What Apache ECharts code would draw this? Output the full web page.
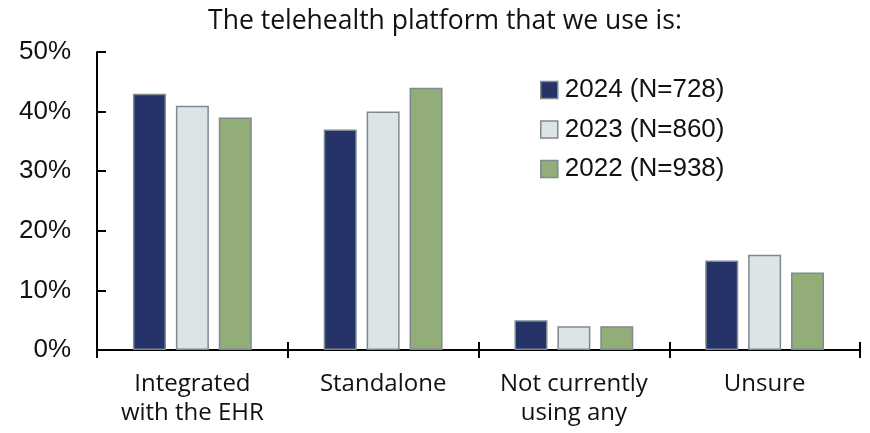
<!DOCTYPE html>
<html>
<head>
<meta charset="utf-8">
<script src="https://cdn.jsdelivr.net/npm/echarts@6/dist/echarts.min.js"></script>
<style>
  html, body { margin: 0; padding: 0; background: #fff; }
  #chart { width: 870px; height: 433px; }
</style>
</head>
<body>
<div id="chart"></div>
<script>
const categories = ["Integrated\nwith the EHR", "Standalone", "Not currently\nusing any", "Unsure"];
const seriesNames = ["2024 (N=728)", "2023 (N=860)", "2022 (N=938)"];
const values2024 = [43, 37, 5, 15];
const values2023 = [41, 40, 4, 16];
const values2022 = [39, 44, 4, 13];
const yTicks = [0, 10, 20, 30, 40, 50];

const colors = ["#253368", "#dde4e6", "#93ad78"];
const allValues = [values2024, values2023, values2022];

const chart = echarts.init(document.getElementById("chart"));

const option = {
  animation: false,
  title: {
    text: "The telehealth platform that we use is:",
    left: 440,
    textAlign: "center",
    top: 3,
    textStyle: { fontFamily: "Open Sans", fontSize: 26.5, fontWeight: "normal", color: "#111" },
  },
  legend: {
    orient: "vertical",
    left: 535,
    top: 72,
    itemWidth: 17,
    itemHeight: 17,
    itemGap: 13.5,
    icon: "rect",
    data: seriesNames,
    textStyle: { fontFamily: "Liberation Sans", fontSize: 26, color: "#111", padding: [0, 0, 0, 2] },
    itemStyle: { borderColor: "#7d8a90", borderWidth: 1.5 },
  },
  grid: { left: 97, right: 10, top: 52, bottom: 83 },
  xAxis: [
    {
      type: "category",
      data: categories,
      axisLine: { lineStyle: { color: "#000", width: 2 } },
      axisTick: { show: true, length: 8, lineStyle: { color: "#000", width: 2 } },
      axisLabel: {
        interval: 0,
        margin: 20,
        fontFamily: "Open Sans",
        fontSize: 24,
        lineHeight: 29,
        color: "#111",
      },
    },
    {
      type: "category",
      data: categories,
      position: "bottom",
      axisLine: { show: false },
      axisTick: { show: true, inside: true, length: 8, lineStyle: { color: "#000", width: 2 } },
      axisLabel: { show: false },
    },
  ],
  yAxis: {
    type: "value",
    min: 0,
    max: 50,
    interval: 10,
    axisLine: { show: true, lineStyle: { color: "#000", width: 2 } },
    axisTick: { show: true, inside: true, length: 9, lineStyle: { color: "#000", width: 2 } },
    splitLine: { show: false },
    axisLabel: {
      margin: 26,
      fontFamily: "Liberation Sans",
      fontSize: 26,
      color: "#111",
      formatter: (v) => (yTicks.includes(v) ? v + "%" : ""),
    },
  },
  series: seriesNames.map((name, i) => ({
    name: name,
    type: "bar",
    data: allValues[i],
    barWidth: 33,
    barGap: "30%",
    itemStyle: { color: colors[i], borderColor: "#7d8a90", borderWidth: 1.5 },
  })),
};

chart.setOption(option);
</script>
</body>
</html>
